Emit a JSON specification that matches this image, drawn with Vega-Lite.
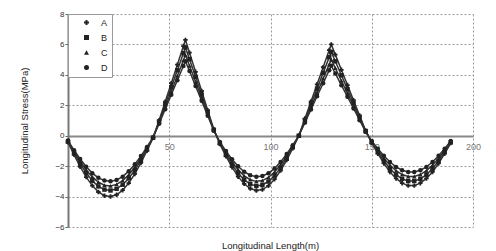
{
  "$schema": "https://vega.github.io/schema/vega-lite/v6.json",
  "width": 405,
  "height": 213,
  "autosize": {"type": "none"},
  "padding": {"left": 68, "top": 14, "right": 23, "bottom": 24},
  "background": "white",
  "config": {"font": "Liberation Sans", "view": {"stroke": null}},
  "title": {"text": "Longitudinal Length(m)", "orient": "bottom", "anchor": "middle", "fontSize": 9.5, "fontWeight": "normal", "offset": 10, "color": "#222"},
  "data": {"values": [
    {"x": 0, "A": -0.43, "B": -0.39, "C": -0.35, "D": -0.32},
    {"x": 3, "A": -1.26, "B": -1.14, "C": -1.04, "D": -0.95},
    {"x": 6, "A": -2.04, "B": -1.84, "C": -1.68, "D": -1.53},
    {"x": 9, "A": -2.72, "B": -2.45, "C": -2.25, "D": -2.04},
    {"x": 12, "A": -3.28, "B": -2.96, "C": -2.71, "D": -2.46},
    {"x": 15, "A": -3.70, "B": -3.33, "C": -3.05, "D": -2.77},
    {"x": 18, "A": -3.94, "B": -3.54, "C": -3.25, "D": -2.95},
    {"x": 21, "A": -4.00, "B": -3.60, "C": -3.30, "D": -3.00},
    {"x": 24, "A": -3.88, "B": -3.49, "C": -3.20, "D": -2.91},
    {"x": 27, "A": -3.58, "B": -3.22, "C": -2.95, "D": -2.69},
    {"x": 30, "A": -3.11, "B": -2.80, "C": -2.57, "D": -2.33},
    {"x": 33, "A": -2.51, "B": -2.26, "C": -2.07, "D": -1.88},
    {"x": 36, "A": -1.79, "B": -1.61, "C": -1.48, "D": -1.34},
    {"x": 39, "A": -0.99, "B": -0.89, "C": -0.82, "D": -0.74},
    {"x": 42, "A": -0.14, "B": -0.13, "C": -0.12, "D": -0.11},
    {"x": 45, "A": 1.01, "B": 0.93, "C": 0.85, "D": 0.79},
    {"x": 48, "A": 2.24, "B": 2.06, "C": 1.88, "D": 1.74},
    {"x": 51, "A": 3.45, "B": 3.18, "C": 2.90, "D": 2.69},
    {"x": 54, "A": 4.67, "B": 4.30, "C": 3.93, "D": 3.64},
    {"x": 57, "A": 5.89, "B": 5.42, "C": 4.96, "D": 4.58},
    {"x": 58, "A": 6.30, "B": 5.80, "C": 5.30, "D": 4.90},
    {"x": 60, "A": 5.46, "B": 5.03, "C": 4.60, "D": 4.25},
    {"x": 63, "A": 4.20, "B": 3.87, "C": 3.54, "D": 3.27},
    {"x": 66, "A": 2.94, "B": 2.71, "C": 2.48, "D": 2.29},
    {"x": 69, "A": 1.68, "B": 1.55, "C": 1.42, "D": 1.31},
    {"x": 72, "A": 0.42, "B": 0.39, "C": 0.36, "D": 0.33},
    {"x": 75, "A": -0.55, "B": -0.50, "C": -0.46, "D": -0.41},
    {"x": 78, "A": -1.35, "B": -1.23, "C": -1.12, "D": -1.01},
    {"x": 81, "A": -2.07, "B": -1.90, "C": -1.73, "D": -1.55},
    {"x": 84, "A": -2.69, "B": -2.46, "C": -2.24, "D": -2.01},
    {"x": 87, "A": -3.16, "B": -2.90, "C": -2.64, "D": -2.37},
    {"x": 90, "A": -3.47, "B": -3.18, "C": -2.89, "D": -2.60},
    {"x": 93, "A": -3.60, "B": -3.30, "C": -3.00, "D": -2.70},
    {"x": 96, "A": -3.54, "B": -3.24, "C": -2.95, "D": -2.65},
    {"x": 99, "A": -3.29, "B": -3.01, "C": -2.74, "D": -2.47},
    {"x": 102, "A": -2.86, "B": -2.62, "C": -2.39, "D": -2.15},
    {"x": 105, "A": -2.29, "B": -2.10, "C": -1.91, "D": -1.72},
    {"x": 108, "A": -1.60, "B": -1.47, "C": -1.33, "D": -1.20},
    {"x": 111, "A": -0.82, "B": -0.76, "C": -0.69, "D": -0.62},
    {"x": 114, "A": 0.00, "B": 0.00, "C": 0.00, "D": 0.00},
    {"x": 117, "A": 1.13, "B": 1.03, "C": 0.94, "D": 0.86},
    {"x": 120, "A": 2.25, "B": 2.06, "C": 1.88, "D": 1.73},
    {"x": 123, "A": 3.38, "B": 3.09, "C": 2.81, "D": 2.59},
    {"x": 126, "A": 4.50, "B": 4.13, "C": 3.75, "D": 3.45},
    {"x": 129, "A": 5.63, "B": 5.16, "C": 4.69, "D": 4.31},
    {"x": 130, "A": 6.00, "B": 5.50, "C": 5.00, "D": 4.60},
    {"x": 132, "A": 5.33, "B": 4.89, "C": 4.45, "D": 4.09},
    {"x": 135, "A": 4.33, "B": 3.97, "C": 3.61, "D": 3.32},
    {"x": 138, "A": 3.33, "B": 3.06, "C": 2.78, "D": 2.56},
    {"x": 141, "A": 2.33, "B": 2.14, "C": 1.95, "D": 1.79},
    {"x": 144, "A": 1.33, "B": 1.22, "C": 1.11, "D": 1.02},
    {"x": 147, "A": 0.33, "B": 0.31, "C": 0.28, "D": 0.26},
    {"x": 150, "A": -0.48, "B": -0.44, "C": -0.39, "D": -0.35},
    {"x": 153, "A": -1.18, "B": -1.07, "C": -0.96, "D": -0.86},
    {"x": 156, "A": -1.82, "B": -1.66, "C": -1.49, "D": -1.32},
    {"x": 159, "A": -2.38, "B": -2.16, "C": -1.94, "D": -1.73},
    {"x": 162, "A": -2.81, "B": -2.56, "C": -2.30, "D": -2.05},
    {"x": 165, "A": -3.12, "B": -2.84, "C": -2.55, "D": -2.27},
    {"x": 168, "A": -3.28, "B": -2.98, "C": -2.68, "D": -2.39},
    {"x": 171, "A": -3.28, "B": -2.98, "C": -2.68, "D": -2.39},
    {"x": 174, "A": -3.12, "B": -2.84, "C": -2.55, "D": -2.27},
    {"x": 177, "A": -2.81, "B": -2.56, "C": -2.30, "D": -2.05},
    {"x": 180, "A": -2.38, "B": -2.16, "C": -1.94, "D": -1.73},
    {"x": 183, "A": -1.82, "B": -1.66, "C": -1.49, "D": -1.32},
    {"x": 186, "A": -1.18, "B": -1.07, "C": -0.96, "D": -0.86},
    {"x": 189, "A": -0.48, "B": -0.44, "C": -0.39, "D": -0.35}
  ]},
  "transform": [{"fold": ["A", "B", "C", "D"], "as": ["series", "stress"]}],
  "layer": [
    {
      "mark": {"type": "line", "color": "#333333", "strokeWidth": 1.5},
      "encoding": {
        "x": {"field": "x", "type": "quantitative", "scale": {"domain": [0, 200], "nice": false},
          "axis": {"orient": "bottom", "title": null, "labels": false, "ticks": false, "domain": false, "grid": true, "values": [50, 100, 150, 200], "gridColor": "#999", "gridDash": [2, 2], "gridWidth": 1}},
        "y": {"field": "stress", "type": "quantitative", "scale": {"domain": [-6, 8], "nice": false},
          "axis": {"title": "Longitudinal Stress(MPa)", "titleFontSize": 9.5, "titleFontWeight": "normal", "titleColor": "#222", "titlePadding": 25, "values": [-6, -4, -2, 0, 2, 4, 6, 8], "tickCount": 8, "labelOverlap": false, "labelBound": false, "labelFlush": false, "labelFontSize": 8, "labelColor": "#333", "labelPadding": 1, "tickSize": 3, "tickColor": "#666", "domainColor": "#777", "domainWidth": 2, "grid": true, "gridColor": "#999", "gridDash": [2, 2], "gridWidth": 1}},
        "detail": {"field": "series"}
      }
    },
    {
      "mark": {"type": "point", "filled": true, "size": 20, "color": "#222222", "opacity": 1},
      "encoding": {
        "x": {"field": "x", "type": "quantitative",
          "axis": {"orient": "bottom", "offset": -91, "title": null, "values": [50, 100, 150, 200], "labelFontSize": 9, "labelColor": "#777", "labelPadding": 6, "labelFlush": false, "ticks": false, "grid": false, "domainColor": "#888", "domainWidth": 2}},
        "y": {"field": "stress", "type": "quantitative",
          "axis": {"title": "Longitudinal Stress(MPa)", "titleFontSize": 9.5, "titleFontWeight": "normal", "titleColor": "#222", "titlePadding": 25, "values": [-6, -4, -2, 0, 2, 4, 6, 8], "tickCount": 8, "labelOverlap": false, "labelBound": false, "labelFlush": false, "labelFontSize": 8, "labelColor": "#333", "labelPadding": 1, "tickSize": 3, "tickColor": "#666", "domainColor": "#777", "domainWidth": 2, "grid": true, "gridColor": "#999", "gridDash": [2, 2], "gridWidth": 1}},
        "shape": {"field": "series", "type": "nominal",
          "scale": {"domain": ["A", "B", "C", "D"], "range": ["cross", "square", "triangle-up", "circle"]},
          "legend": {"title": null, "orient": "top-left", "offset": 0, "strokeColor": "#999", "fillColor": "white", "padding": 4, "labelFontSize": 9, "labelColor": "#222", "labelOffset": 10, "symbolOffset": 10, "symbolSize": 25, "symbolFillColor": "#333", "symbolStrokeColor": "#333", "rowPadding": 4}}
      }
    }
  ],
  "resolve": {"axis": {"x": "independent"}}
}
